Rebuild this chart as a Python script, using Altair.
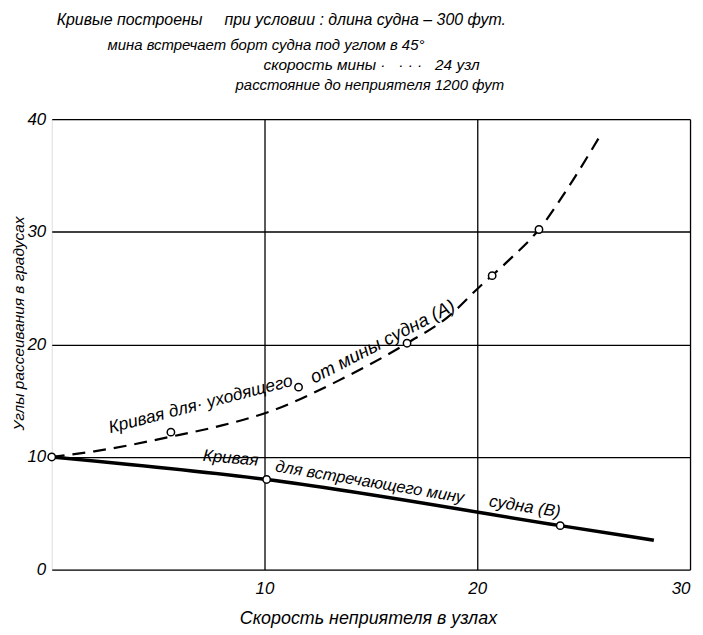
import altair as alt
import pandas as pd

FONT = "Liberation Sans"
NB = "\u00a0"

# Curve A (dashed): ship moving away from the mine
speed_a = [0, 2, 5.6, 8, 10.2, 13.5, 16.7, 18.6, 20.1, 21.5, 22.9, 24.3, 25.7]
angle_a = [10, 10.5, 11.8, 12.8, 14.0, 16.8, 20.1, 22.4, 25.1, 27.5, 30.2, 34.0, 38.3]
marks_a_x = [0, 5.6, 11.6, 16.7, 20.7, 22.9]
marks_a_y = [10, 12.2, 16.2, 20.1, 26.1, 30.2]

# Curve B (solid): ship meeting the mine
speed_b = [0, 10.1, 23.9, 28.3]
angle_b = [10, 8.0, 3.9, 2.6]
marks_b_x = [10.1, 23.9]
marks_b_y = [8.0, 3.9]

x_ticks = [10, 20, 30]
y_ticks = [0, 10, 20, 30, 40]

header_lines = [
    "Кривые построены" + NB * 5 + "при условии : длина судна – 300 фут.",
    "мина встречает борт судна под углом в 45°",
    "скорость мины" + NB + "·" + NB * 3 + "·" + NB + "·" + NB + "·" + NB * 3 + "24 узл",
    "расстояние до неприятеля 1200 фут",
]
header_x = [0.23, 2.62, 9.95, 8.64]
header_y = [48.8, 46.6, 44.8, 43.0]
header_size = [16, 15, 15.5, 15]

curve_labels = [
    "Кривая для· уходящего",
    "от мины судна (А)",
    "Кривая",
    "для встречающего мину",
    "судна (В)",
]
label_x = [7.0, 15.55, 8.41, 14.95, 22.24]
label_y = [14.65, 20.25, 9.88, 7.76, 5.56]
label_angle = [345.5, 332.6, 5, 9.5, 9]
label_size = [17.5, 18.5, 17, 16.5, 17]

df_a = pd.DataFrame({"x": speed_a, "y": angle_a})
df_b = pd.DataFrame({"x": speed_b, "y": angle_b})
df_pts = pd.DataFrame({"x": marks_a_x + marks_b_x, "y": marks_a_y + marks_b_y})
df_head = pd.DataFrame({"t": header_lines, "x": header_x, "y": header_y, "s": header_size})
df_lab = pd.DataFrame({"t": curve_labels, "x": label_x, "y": label_y, "a": label_angle, "s": label_size})

xs = alt.Scale(domain=[0, 30], nice=False, zero=False)
ys = alt.Scale(domain=[0, 40], nice=False, zero=False)

x_axis = alt.Axis(
    values=x_ticks, grid=True, gridColor="black", gridWidth=1.3, domain=False, ticks=False,
    labelPadding=11, labelFontSize=17, labelFont=FONT, labelFontStyle="italic", labelColor="black",
    title="Скорость неприятеля в узлах", titleFont=FONT, titleFontStyle="italic",
    titleFontWeight="normal", titleFontSize=18, titleColor="black",
    titleX=318, titleY=49, titleAlign="center", titleBaseline="middle",
)
y_axis = alt.Axis(
    values=y_ticks, grid=True, gridColor="black", gridWidth=1.3, domain=False, ticks=False,
    labelPadding=6, labelFontSize=17, labelFont=FONT, labelFontStyle="italic", labelColor="black",
    title="Углы рассеивания в градусах", titleFont=FONT, titleFontStyle="italic",
    titleFontWeight="normal", titleFontSize=15.5, titleColor="black",
    titleX=-33, titleY=205, titleAngle=270, titleAlign="center", titleBaseline="middle",
)

line_a = alt.Chart(df_a).mark_line(
    color="black", strokeWidth=2.2, strokeDash=[13, 8], interpolate="monotone"
).encode(x=alt.X("x:Q", scale=xs, axis=x_axis), y=alt.Y("y:Q", scale=ys, axis=y_axis))

line_b = alt.Chart(df_b).mark_line(
    color="black", strokeWidth=3.5, interpolate="monotone"
).encode(x=alt.X("x:Q", scale=xs), y=alt.Y("y:Q", scale=ys))

pts = alt.Chart(df_pts).mark_point(
    shape="circle", size=55, filled=True, fill="white", stroke="black", strokeWidth=1.5, opacity=1
).encode(x=alt.X("x:Q", scale=xs), y=alt.Y("y:Q", scale=ys))

head = alt.Chart(df_head).mark_text(
    align="left", baseline="middle", font=FONT, fontStyle="italic", color="black"
).encode(
    x=alt.X("x:Q", scale=xs), y=alt.Y("y:Q", scale=ys), text="t:N",
    size=alt.Size("s:Q", scale=None),
)

labs = alt.Chart(df_lab).mark_text(
    align="center", baseline="middle", font=FONT, fontStyle="italic", color="black"
).encode(
    x=alt.X("x:Q", scale=xs), y=alt.Y("y:Q", scale=ys), text="t:N",
    angle=alt.Angle("a:Q", scale=None), size=alt.Size("s:Q", scale=None),
)

chart = alt.layer(line_a, line_b, pts, head, labs).properties(
    width=642, height=453,
    padding={"left": 44, "top": 110, "right": 5, "bottom": 60},
    autosize=alt.AutoSizeParams(type="none"),
).configure_view(stroke="black", strokeWidth=1.6).configure(background="white")

chart.save("out.html", embed_options={"renderer": "svg", "actions": False})
